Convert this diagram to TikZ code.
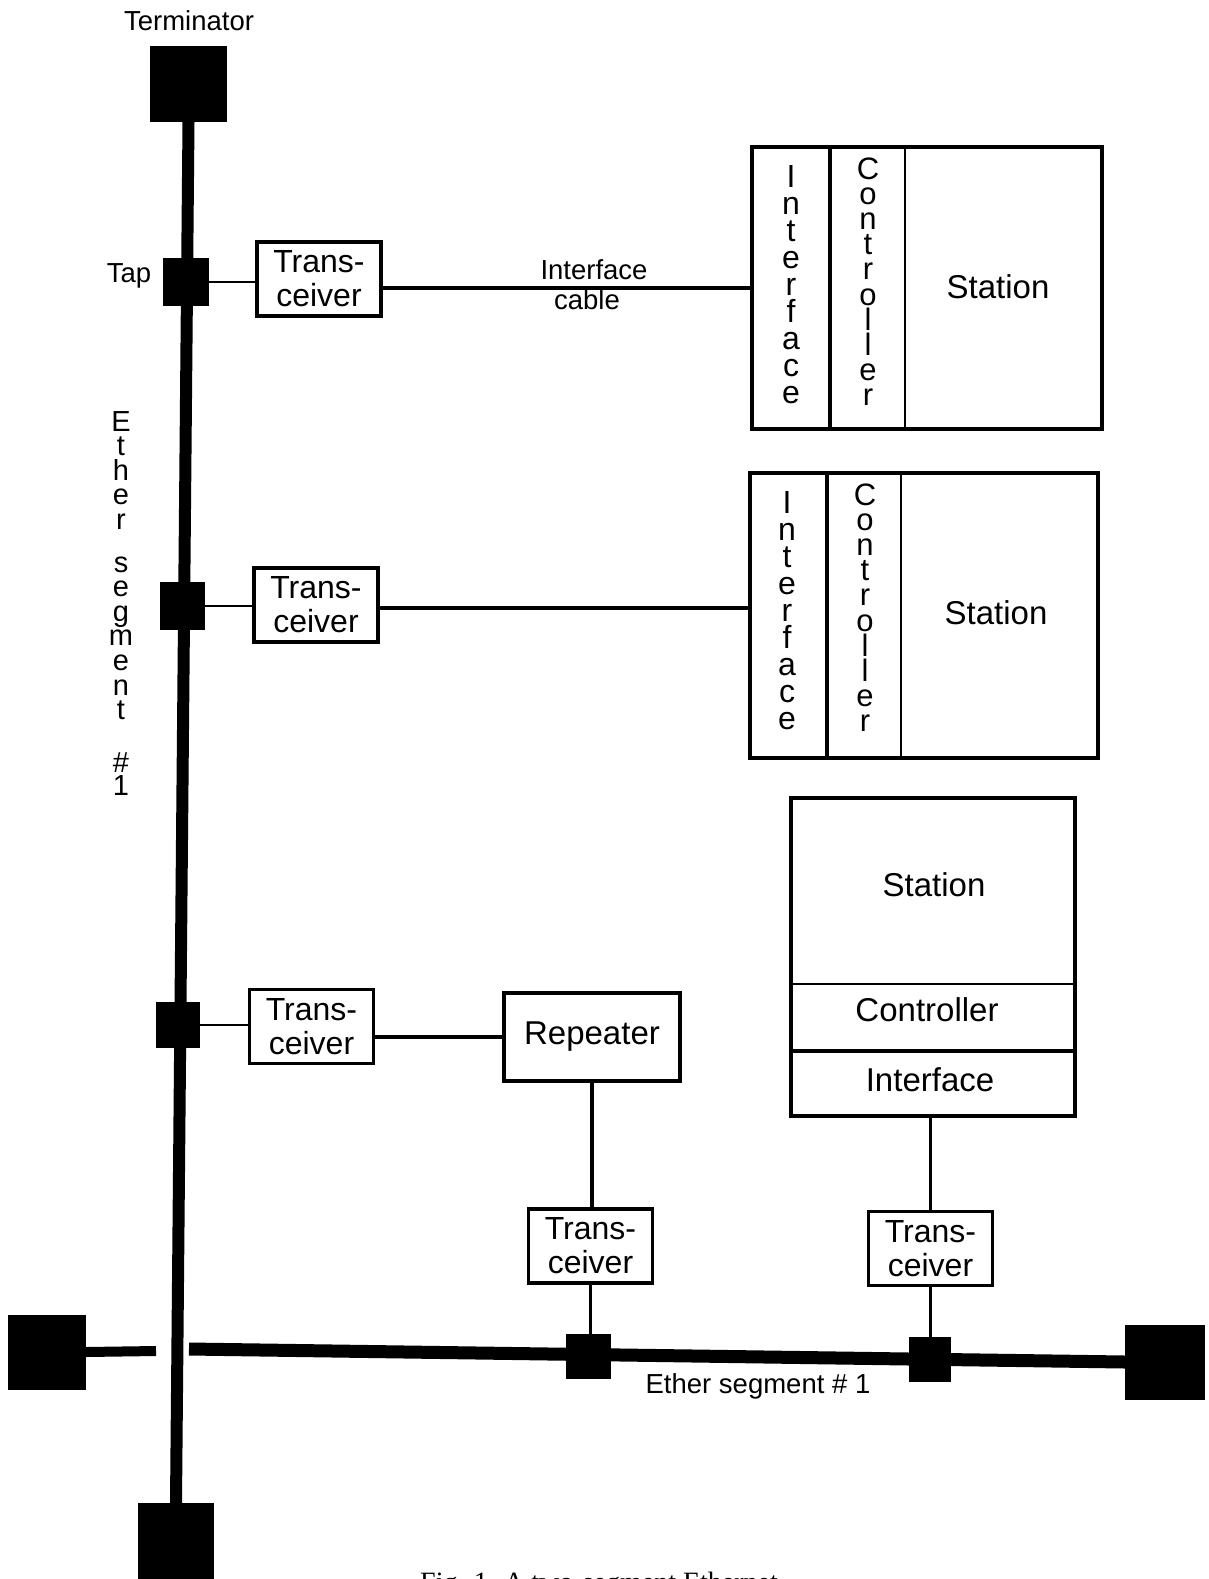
\documentclass[tikz,border=0pt]{standalone}
\usepackage{fontspec}
\setmainfont{Liberation Sans}
\newfontfamily\capfont{Liberation Serif}
\begin{document}
\begin{tikzpicture}[x=1pt,y=-1pt,
  term/.style={fill=black,draw=none,inner sep=0,outer sep=0},
  tapbox/.style={fill=black,draw=none,inner sep=0,outer sep=0},
  xcvr/.style={draw,line width=3.5pt,inner sep=0,outer sep=0,minimum width=124pt,minimum height=74pt,align=center,font=\fontsize{32}{34}\selectfont},
  stbox/.style={draw,line width=4.5pt,inner sep=0,outer sep=0,anchor=north west},
  lbl/.style={inner sep=0,font=\fontsize{33}{36}\selectfont},
  small/.style={inner sep=0,align=center,font=\fontsize{27.5}{30}\selectfont},
  vleti/.style={inner sep=0,anchor=base,font=\fontsize{32}{30}\selectfont},
  vletc/.style={inner sep=0,anchor=base,font=\fontsize{31}{30}\selectfont},
  elet/.style={inner sep=0,anchor=base,font=\fontsize{29}{30}\selectfont},
  bus/.style={line width=12pt},
  tapline/.style={line width=2.5pt},
  cable/.style={line width=3.5pt},
  thickdiv/.style={line width=4.5pt},
  thindiv/.style={line width=2.5pt}]
\useasboundingbox (0,0) rectangle (1208,1579);
\fill[white] (0,0) rectangle (1208,1579);

% terminators
\node[term,minimum width=77pt,minimum height=76pt] (termT) at (188.5,84) {};
\node[term,minimum width=76pt,minimum height=82pt] (termB) at (176,1544) {};
\node[term,minimum width=78pt,minimum height=75pt] (termL) at (47,1352) {};
\node[term,minimum width=80pt,minimum height=75pt] (termR) at (1165,1362) {};

% vertical ether bus
\draw[bus] (termT.south) -- (termB.north);
% horizontal ether bus
\coordinate (gapL) at (156,1351);
\coordinate (gapR) at (189,1349);
\draw[line width=10pt] (termL.east) -- (gapL);
\draw[line width=13pt] (gapR) -- (termR.west);

% taps
\node[tapbox,minimum width=46pt,minimum height=48pt] (tap1) at (186,282) {};
\node[tapbox,minimum width=45pt,minimum height=48pt] (tap2) at (182.5,606) {};
\node[tapbox,minimum width=44pt,minimum height=46pt] (tap3) at (178,1025) {};
\node[tapbox,minimum width=45pt,minimum height=45pt] (tap4) at (588.5,1356.5) {};
\node[tapbox,minimum width=42pt,minimum height=45pt] (tap5) at (930,1359.5) {};

% transceivers
\node[xcvr] (tr1) at (319,279) {Trans-\\ceiver};
\node[xcvr] (tr2) at (316,605) {Trans-\\ceiver};
\node[xcvr] (tr3) at (311.5,1026.5) {Trans-\\ceiver};
\node[xcvr] (tr4) at (590.5,1246) {Trans-\\ceiver};
\node[xcvr] (tr5) at (930.5,1248.5) {Trans-\\ceiver};

% stations
\node[stbox,minimum width=350pt,minimum height=282pt] (s1) at (752,147) {};
\node[stbox,minimum width=348pt,minimum height=285pt] (s2) at (750,473) {};
\node[stbox,minimum width=284pt,minimum height=318pt] (s3) at (791,798) {};
\node[draw,line width=4.5pt,inner sep=0,outer sep=0,minimum width=176pt,minimum height=88pt,lbl] (rep) at (592,1037) {Repeater};

% dividers
\draw[thickdiv] ([xshift=78pt]s1.north west) -- ([xshift=78pt]s1.south west);
\draw[thindiv] ([xshift=153pt]s1.north west) -- ([xshift=153pt]s1.south west);
\draw[thickdiv] ([xshift=77pt]s2.north west) -- ([xshift=77pt]s2.south west);
\draw[thindiv] ([xshift=151pt]s2.north west) -- ([xshift=151pt]s2.south west);
\draw[thindiv] ([yshift=-186pt]s3.north west) -- ([yshift=-186pt]s3.north east);
\draw[thickdiv] ([yshift=-253pt]s3.north west) -- ([yshift=-253pt]s3.north east);

% station labels
\node[lbl] (st1) at (998,287) {Station};
\node[lbl] (st2) at (996,613) {Station};
\node[lbl] (st3) at (934,885) {Station};
\node[lbl] (ct3) at (927,1010) {Controller};
\node[lbl] (if3) at (930,1080) {Interface};

% stacked column letters
\foreach \ch [count=\i from 0] in {I,n,t,e,r,f,a,c,e}
  \node[vleti] (ifa\i) at (791,187+27*\i) {\ch};
\foreach \ch [count=\i from 0] in {C,o,n,t,r,o,l,l,e,r}
  \node[vletc] (cta\i) at (868,179+25.2*\i) {\ch};
\foreach \ch [count=\i from 0] in {I,n,t,e,r,f,a,c,e}
  \node[vleti] (ifb\i) at (787,513+27*\i) {\ch};
\foreach \ch [count=\i from 0] in {C,o,n,t,r,o,l,l,e,r}
  \node[vletc] (ctb\i) at (865,505+25.2*\i) {\ch};

% connectors
\draw[tapline] (tap1) -- (tap1 -| tr1.west);
\draw[tapline] (tap2) -- (tap2 -| tr2.west);
\draw[tapline] (tap3) -- (tap3 -| tr3.west);
\draw[cable] (s1.west -| tr1.east) -- (s1.west);
\draw[cable] ([yshift=-3pt]tr2.east) -- ([yshift=-3pt]tr2.east -| s2.west);
\draw[cable] (rep.west -| tr3.east) -- (rep.west);
\draw[cable] (rep.south) -- (rep.south |- tr4.north);
\draw[tapline] (tr4.south) -- (tr4.south |- tap4.north);
\draw[cable] (tr5.north) -- (tr5.north |- s3.south);
\draw[tapline] (tr5.south) -- (tr5.south |- tap5.north);

% labels
\node[small] (termlbl) at (189,21) {Terminator};
\node[small] (taplbl) at (129,276) {Tap};
\node[small,anchor=base] (cablelbl1) at (594,279) {Interface};
\node[small,anchor=base] (cablelbl2) at (587,309) {cable};
\node[small] (seglbl) at (758,1386) {Ether segment~\#~1};

\foreach \ch/\yy [count=\i] in {E/431,t/455.6,h/480.2,e/504.8,r/529.4,s/572,e/596.6,g/621.2,m/645.8,e/670.4,n/695,t/719.6,\#/772,1/795}
  \node[elet] (ev\i) at (121,\yy) {\ch};

% caption (cut off at page bottom)
\begin{scope}
  \clip (0,0) rectangle (1208,1579);
  \node[inner sep=0,anchor=base west,font=\capfont\fontsize{28}{30}\selectfont] (cap) at (420,1591.5) {Fig. 1. A two-segment Ethernet.};
\end{scope}
\end{tikzpicture}
\end{document}
